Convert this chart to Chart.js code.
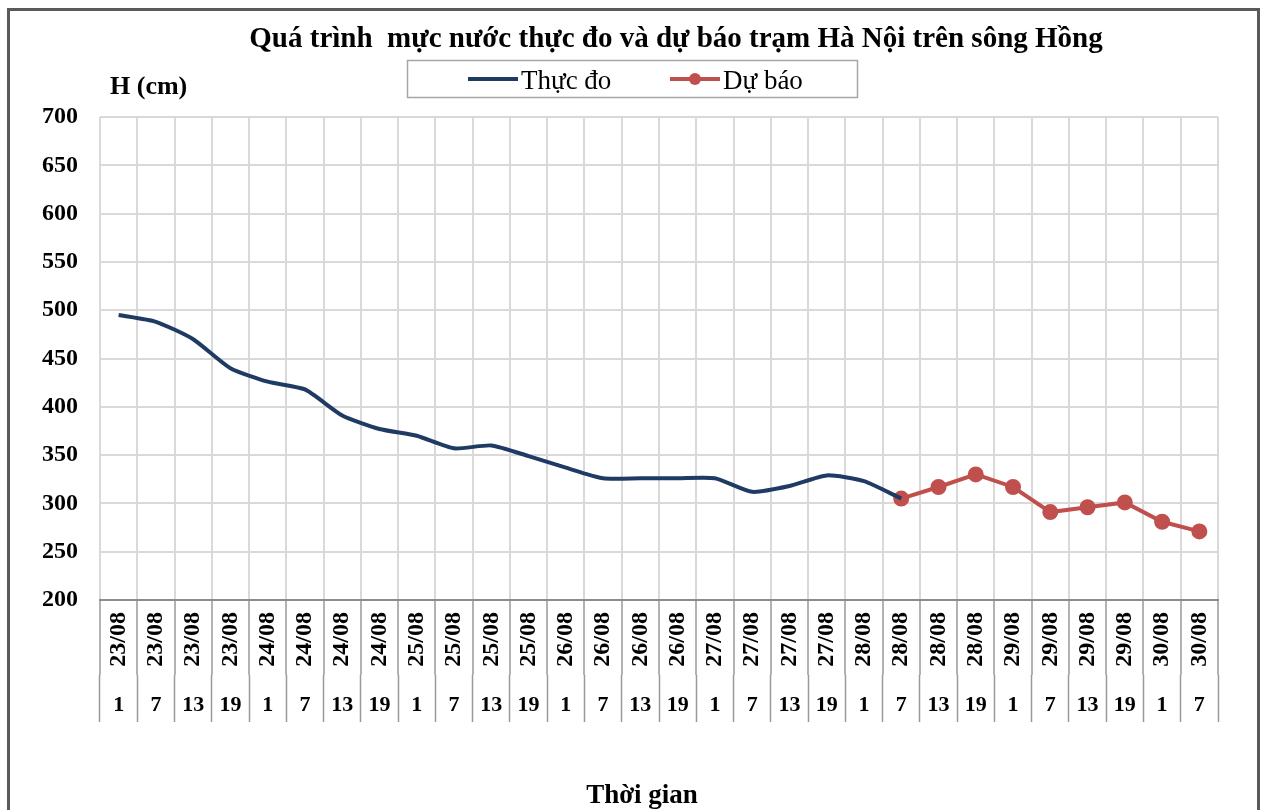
<!DOCTYPE html>
<html>
<head>
<meta charset="utf-8">
<script src="https://cdn.jsdelivr.net/npm/chart.js@4/dist/chart.umd.min.js"></script>
<style>
  html, body { margin: 0; padding: 0; background: #fff; overflow: hidden; }
  canvas { position: absolute; left: 0; top: 0; }
  #frame { position: absolute; left: 7px; top: 8px; width: 1247px; height: 840px; border: 3px solid #5a5a5a; pointer-events: none; }
</style>
</head>
<body>
<canvas id="chart" width="1263" height="810"></canvas>
<div id="frame"></div>
<script>
// data
var dates = ['23/08','23/08','23/08','23/08','24/08','24/08','24/08','24/08',
             '25/08','25/08','25/08','25/08','26/08','26/08','26/08','26/08',
             '27/08','27/08','27/08','27/08','28/08','28/08','28/08','28/08',
             '29/08','29/08','29/08','29/08','30/08','30/08'];
var hours = ['1','7','13','19','1','7','13','19','1','7','13','19','1','7','13','19',
             '1','7','13','19','1','7','13','19','1','7','13','19','1','7'];
var observed = [495, 488, 470, 440, 426, 418, 391, 377, 370, 357, 360, 349,
                337, 326, 326, 326, 326, 312, 318, 329, 323, 305,
                null, null, null, null, null, null, null, null];
var forecast = [null, null, null, null, null, null, null, null, null, null,
                null, null, null, null, null, null, null, null, null, null, null,
                305, 317, 330, 317, 291, 296, 301, 281, 271];

const chartTitle = 'Quá trình  mực nước thực đo và dự báo trạm Hà Nội trên sông Hồng';
const xTitle = 'Thời gian';
const FONT = "'Liberation Serif', 'Times New Roman', serif";
const NAVY = '#1f3b63';
const RED = '#c0504d';

// title, unit label, x title and boxed legend drawn on top
var extras = {
  id: 'extras',
  afterDraw(chart) {
    let c = chart.ctx;
    c.save();
    c.fillStyle = '#000';
    c.textBaseline = 'alphabetic';

    c.font = 'bold 29px ' + FONT;
    c.textAlign = 'center';
    c.fillText(chartTitle, 676, 47);

    c.font = 'bold 27px ' + FONT;
    c.fillText(xTitle, 642, 803);

    c.font = 'bold 26px ' + FONT;
    c.textAlign = 'left';
    c.fillText('H (cm)', 110, 94);

    // legend
    c.strokeStyle = '#a6a6a6';
    c.lineWidth = 1.5;
    c.strokeRect(407.5, 60.5, 450, 37);
    let spots = [468, 670];
    c.font = '27px ' + FONT;
    chart.data.datasets.forEach(function(ds, i) {
      let x = spots[i];
      c.strokeStyle = ds.borderColor;
      c.lineWidth = 4;
      c.beginPath();
      c.moveTo(x, 79);
      c.lineTo(x + 50, 79);
      c.stroke();
      if (ds.pointRadius > 0) {
        c.fillStyle = ds.backgroundColor;
        c.beginPath();
        c.arc(x + 25, 79, ds.pointRadius, 0, Math.PI * 2);
        c.fill();
      }
      c.fillStyle = '#000';
      c.fillText(ds.label, x + 53, 89);
    });
    c.restore();
  }
};

var ctx = document.getElementById('chart').getContext('2d');
var chart = new Chart(ctx, {
  type: 'line',
  data: {
    labels: dates,
    datasets: [
      {
        label: 'Thực đo',
        data: observed,
        borderColor: NAVY,
        backgroundColor: NAVY,
        borderWidth: 4,
        pointRadius: 0,
        tension: 0.2
      },
      {
        label: 'Dự báo',
        data: forecast,
        borderColor: RED,
        backgroundColor: RED,
        borderWidth: 4,
        pointRadius: 6,
        pointHoverRadius: 6,
        tension: 0
      }
    ]
  },
  options: {
    responsive: false,
    animation: false,
    layout: { padding: { left: 0, right: 45, top: 117, bottom: 0 } },
    plugins: {
      legend: { display: false },
      tooltip: { enabled: false }
    },
    scales: {
      x: {
        offset: true,
        grid: { offset: true, color: '#d9d9d9', lineWidth: 2, drawTicks: true,
                tickLength: 75, tickColor: '#999999', tickWidth: 1.5 },
        border: { display: true, color: '#8c8c8c', width: 2 },
        ticks: { autoSkip: false, maxRotation: 90, minRotation: 90, padding: -63,
                 color: '#000', font: { family: FONT, size: 24, weight: 'bold' } },
        afterFit: function(s) { s.height = 75; }
      },
      x2: {
        type: 'category',
        labels: hours,
        position: 'bottom',
        offset: true,
        grid: { offset: true, drawOnChartArea: false, drawTicks: true,
                tickLength: 47, tickColor: '#999999', tickWidth: 1.5 },
        border: { display: false },
        ticks: { autoSkip: false, maxRotation: 0, minRotation: 0, padding: -30,
                 color: '#000', font: { family: FONT, size: 22, weight: 'bold' } },
        afterFit: function(s) { s.height = 135; }
      },
      y: {
        min: 200,
        max: 700,
        ticks: { stepSize: 50, padding: 22, color: '#000',
                 font: { family: FONT, size: 24, weight: 'bold' } },
        grid: { color: '#d9d9d9', lineWidth: 2, drawTicks: false },
        border: { display: false },
        afterFit: function(s) { s.width = 100; }
      }
    }
  },
  plugins: [extras]
});
</script>
</body>
</html>
